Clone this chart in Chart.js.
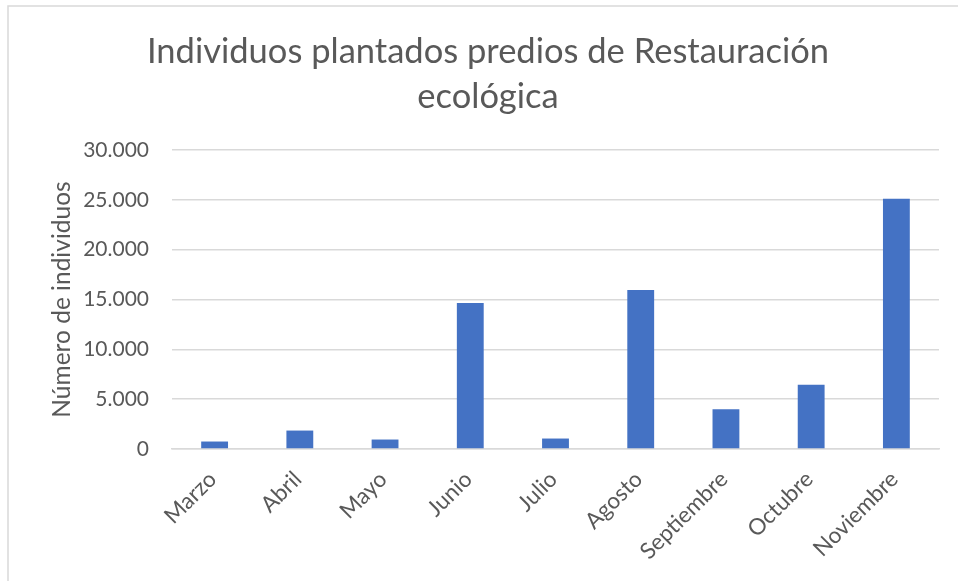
<!DOCTYPE html>
<html><head><meta charset="utf-8">
<script src="https://cdn.jsdelivr.net/npm/chart.js@4/dist/chart.umd.min.js"></script>
<style>html,body{margin:0;padding:0;background:#fff;overflow:hidden}</style>
</head><body>
<canvas id="c" width="958" height="581" style="display:block;width:958px;height:581px"></canvas>
<script>
const categories = ['Marzo','Abril','Mayo','Junio','Julio','Agosto','Septiembre','Octubre','Noviembre'];
const values = [750, 1850, 950, 14650, 1050, 15950, 4000, 6450, 25100];
const yTickValues = [0, 5000, 10000, 15000, 20000, 25000, 30000];
const titleLines = ['Individuos plantados predios de Restauración', 'ecológica'];
const yAxisTitle = 'Número de individuos';

const FONT = 'Lato, "Open Sans", sans-serif';
const TEXT = '#595959';

const borderPlugin = {
  id: 'frame',
  beforeDraw(chart) {
    const ctx = chart.ctx;
    ctx.save();
    ctx.fillStyle = '#fff';
    ctx.fillRect(0, 0, chart.width, chart.height);
    ctx.strokeStyle = '#d9d9d9';
    ctx.lineWidth = 1.5;
    ctx.beginPath();
    ctx.moveTo(8, chart.height);
    ctx.lineTo(8, 6);
    ctx.lineTo(chart.width, 6);
    ctx.stroke();
    ctx.restore();
  }
};

new Chart(document.getElementById('c'), {
  type: 'bar',
  data: {
    labels: categories,
    datasets: [{
      data: values,
      backgroundColor: '#4472C4',
      borderWidth: 0,
      barPercentage: 0.63,
      categoryPercentage: 0.5
    }]
  },
  options: {
    responsive: false,
    animation: false,
    devicePixelRatio: 1,
    layout: { padding: { left: 18, right: 0, top: 0, bottom: 0 } },
    plugins: {
      legend: { display: false },
      tooltip: { enabled: false },
      title: {
        display: true,
        text: titleLines,
        color: TEXT,
        font: { family: FONT, size: 34.5, weight: 'normal', lineHeight: 1.3 },
        padding: { top: 29.5, bottom: 30.8 }
      }
    },
    scales: {
      x: {
        grid: { display: false, drawTicks: false },
        border: { display: true, color: '#d9d9d9', width: 1.5 },
        ticks: {
          color: TEXT,
          font: { family: FONT, size: 22.5 },
          maxRotation: 45, minRotation: 45,
          padding: 17,
          labelOffset: -2,
          autoSkip: false
        },
        afterFit(scale) { scale.height = 132; }
      },
      y: {
        min: 0, max: 30000,
        afterBuildTicks(scale) { scale.ticks = yTickValues.map(v => ({ value: v })); },
        grid: { color: '#d9d9d9', lineWidth: 1.5, drawTicks: false },
        border: { display: false },
        ticks: {
          color: TEXT,
          font: { family: FONT, size: 21 },
          padding: 23,
          callback: v => v.toLocaleString('de-DE')
        },
        title: {
          display: true,
          text: yAxisTitle,
          color: TEXT,
          font: { family: FONT, size: 24.5 },
          padding: { top: 29, bottom: 0 }
        },
        afterFit(scale) { scale.width = 154; }
      },
      yRight: {
        position: 'right',
        display: true,
        grid: { display: false, drawTicks: false },
        border: { display: false },
        ticks: { display: false },
        afterFit(scale) { scale.width = 19; }
      }
    }
  },
  plugins: [borderPlugin]
});
</script>
</body></html>
